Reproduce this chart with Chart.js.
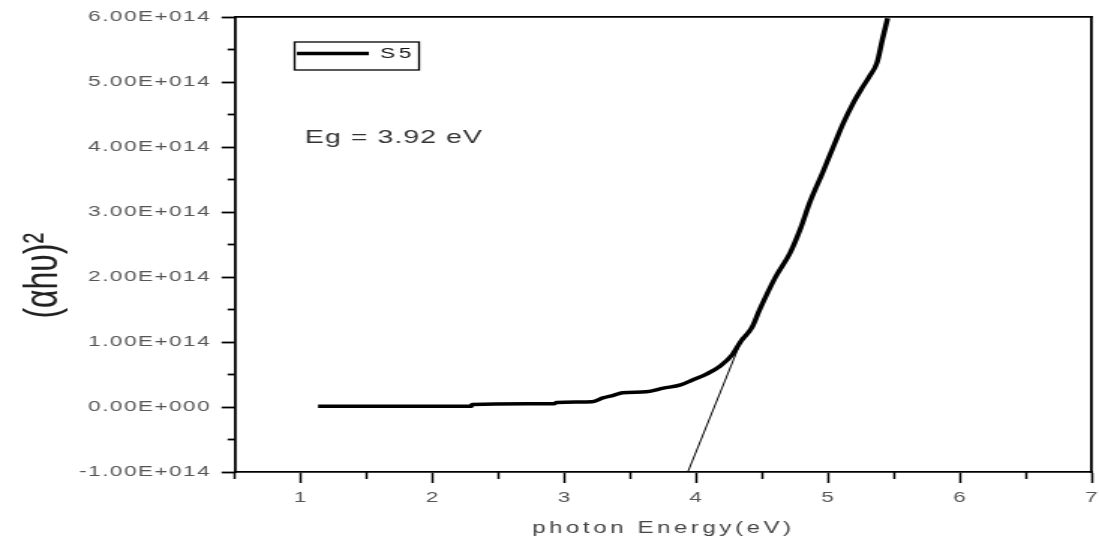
<!DOCTYPE html>
<html>
<head>
<meta charset="utf-8">
<script src="https://cdn.jsdelivr.net/npm/chart.js@4/dist/chart.umd.min.js"></script>
<style>
  html, body { margin: 0; padding: 0; background: #fff; }
</style>
</head>
<body>
<!-- drawn at 733px and stretched to 1099px wide -->
<canvas id="plot" width="733" height="546" style="display:block;width:1099px;height:546px"></canvas>
<script>
// photon energy (eV) vs (alpha h nu)^2 for sample S5
const energy = [1.13, 2.29, 2.30, 2.92, 2.94, 3.21, 3.29, 3.37, 3.44, 3.62, 3.75, 3.88, 3.97,
  4.08, 4.18, 4.27, 4.34, 4.42, 4.48, 4.60, 4.71, 4.79, 4.86, 4.96, 5.05, 5.11, 5.19,
  5.26, 5.31, 5.37, 5.41, 5.45];
const absorption = [0.01e14, 0.01e14, 0.04e14, 0.05e14, 0.07e14, 0.08e14, 0.14e14, 0.18e14,
  0.22e14, 0.235e14, 0.29e14, 0.34e14, 0.415e14, 0.51e14, 0.63e14, 0.8e14, 1.02e14,
  1.22e14, 1.5e14, 2.0e14, 2.37e14, 2.75e14, 3.15e14, 3.62e14, 4.06e14, 4.35e14, 4.68e14,
  4.92e14, 5.08e14, 5.3e14, 5.65e14, 5.98e14];

// linear extrapolation of the absorption edge
const fitEnergy = [3.935, 4.35];
const fitAbsorption = [-1.0e14, 1.07e14];

const xTicks = [1, 2, 3, 4, 5, 6, 7];
const xTickLabels = ['1', '2', '3', '4', '5', '6', '7'];
const xMinorTicks = [0.5, 1.5, 2.5, 3.5, 4.5, 5.5, 6.5];
const yTicks = [-1e14, 0, 1e14, 2e14, 3e14, 4e14, 5e14, 6e14];
const yTickLabels = ['-1.00E+014', '0.00E+000', '1.00E+014', '2.00E+014',
  '3.00E+014', '4.00E+014', '5.00E+014', '6.00E+014'];
const yMinorTicks = [-0.5e14, 0.5e14, 1.5e14, 2.5e14, 3.5e14, 4.5e14, 5.5e14];

const seriesName = 'S5';
const gapNote = 'Eg = 3.92 eV';
const xTitle = 'photon Energy(eV)';
const yTitle = '(\u03B1h\u03C5)\u00B2';

const FONT = '"Liberation Sans", Arial, sans-serif';
const X_RANGE = { min: 0.5, max: 7 };
const Y_RANGE = { min: -1e14, max: 6e14 };

const points = (xs, ys) => xs.map((v, i) => ({ x: v, y: ys[i] }));
const setTicks = (values) => (scale) => { scale.ticks = values.map(v => ({ value: v })); };
const noEdgePadding = (scale) => {
  scale.paddingLeft = scale.paddingRight = scale.paddingTop = scale.paddingBottom = 0;
};

// outer edge of the frame, no ticks or labels
const frameSide = (position) => ({
  type: 'linear', position, ...(position === 'top' ? X_RANGE : Y_RANGE),
  ticks: { display: false },
  grid: { drawOnChartArea: false, drawTicks: false },
  border: { display: true, color: '#000', width: 1.8 },
  afterFit(scale) {
    if (position === 'top') scale.height = 0; else scale.width = 0;
    noEdgePadding(scale);
  }
});

const extras = {
  id: 'extras',
  afterLayout(chart) {
    // move the legend row a little down from the corner
    chart.legend.top += 4.7;
    chart.legend.bottom += 4.7;
  },
  beforeDraw(chart) {
    chart.ctx.letterSpacing = '2.4px';
  },
  beforeDatasetsDraw(chart) {
    chart.ctx.letterSpacing = '1px';
  },
  afterDraw(chart) {
    const { ctx, scales: { x, y } } = chart;
    ctx.save();
    ctx.letterSpacing = '0px';

    // box around the legend entry
    const hit = chart.legend.legendHitBoxes[0];
    if (hit) {
      ctx.strokeStyle = '#000';
      ctx.lineWidth = 1.3;
      ctx.strokeRect(hit.left - 1.5, hit.top - 4, 83, hit.height + 13);
    }

    ctx.letterSpacing = '0.7px';
    ctx.fillStyle = '#333';
    ctx.font = '19px ' + FONT;
    ctx.textBaseline = 'middle';
    ctx.fillText(gapNote, x.getPixelForValue(1.03), y.getPixelForValue(4.14e14));

    ctx.letterSpacing = '0px';
    ctx.translate(28.7, y.getPixelForValue(2.02e14));
    ctx.rotate(-Math.PI / 2);
    ctx.font = '32px ' + FONT;
    ctx.textAlign = 'center';
    ctx.fillStyle = '#222';
    ctx.fillText(yTitle, 0, 0);
    ctx.restore();
  }
};

new Chart(document.getElementById('plot'), {
  type: 'line',
  data: {
    datasets: [{
      label: seriesName,
      data: points(energy, absorption),
      borderColor: '#000',
      backgroundColor: '#000',
      borderWidth: 3.5,
      pointRadius: 0,
      cubicInterpolationMode: 'monotone',
      xAxisID: 'x',
      yAxisID: 'y'
    }, {
      label: 'fit',
      data: points(fitEnergy, fitAbsorption),
      borderColor: '#000',
      borderWidth: 1,
      pointRadius: 0,
      xAxisID: 'x',
      yAxisID: 'y'
    }]
  },
  options: {
    responsive: false,
    animation: false,
    events: [],
    layout: { padding: { left: 0, right: 4.7, top: 17, bottom: 0 } },
    plugins: {
      tooltip: { enabled: false },
      legend: {
        position: 'chartArea',
        align: 'start',
        labels: {
          filter: (item) => item.text === seriesName,
          usePointStyle: true,
          pointStyle: 'line',
          pointStyleWidth: 48,
          padding: 41.3,
          color: '#111',
          font: { family: FONT, size: 15 }
        }
      }
    },
    scales: {
      x: {
        type: 'linear', position: 'bottom', weight: 1, ...X_RANGE,
        afterBuildTicks: setTicks(xTicks),
        afterFit(scale) { scale.height = 74; noEdgePadding(scale); },
        ticks: {
          z: 1, autoSkip: false, maxRotation: 0, padding: 6,
          color: '#555', font: { family: FONT, size: 15 },
          callback: (v, i) => xTickLabels[i]
        },
        grid: { drawOnChartArea: false, tickLength: 11, tickWidth: 1.5, tickColor: '#000' },
        border: { display: true, color: '#000', width: 1.8 },
        title: {
          display: true, text: xTitle, color: '#444',
          font: { family: FONT, size: 16 }, padding: { top: 0, bottom: 7.4 }
        }
      },
      xMinor: {
        type: 'linear', position: 'bottom', weight: 0, ...X_RANGE,
        afterBuildTicks: setTicks(xMinorTicks),
        afterFit(scale) { scale.height = 0; noEdgePadding(scale); },
        ticks: { display: false },
        grid: { drawOnChartArea: false, tickLength: 7, tickWidth: 1.5, tickColor: '#000' },
        border: { display: false }
      },
      y: {
        type: 'linear', position: 'left', weight: 1, ...Y_RANGE,
        afterBuildTicks: setTicks(yTicks),
        afterFit(scale) { scale.width = 156.7; noEdgePadding(scale); },
        ticks: {
          z: 1, autoSkip: false, padding: 7,
          color: '#555', font: { family: FONT, size: 15 },
          callback: (v, i) => yTickLabels[i]
        },
        grid: { drawOnChartArea: false, tickLength: 8.9, tickWidth: 1.8, tickColor: '#000' },
        border: { display: true, color: '#000', width: 1.8 }
      },
      yMinor: {
        type: 'linear', position: 'left', weight: 0, ...Y_RANGE,
        afterBuildTicks: setTicks(yMinorTicks),
        afterFit(scale) { scale.width = 0; noEdgePadding(scale); },
        ticks: { display: false },
        grid: { drawOnChartArea: false, tickLength: 4.9, tickWidth: 1.8, tickColor: '#000' },
        border: { display: false }
      },
      xTop: frameSide('top'),
      yRight: frameSide('right')
    }
  },
  plugins: [extras]
});
</script>
</body>
</html>
